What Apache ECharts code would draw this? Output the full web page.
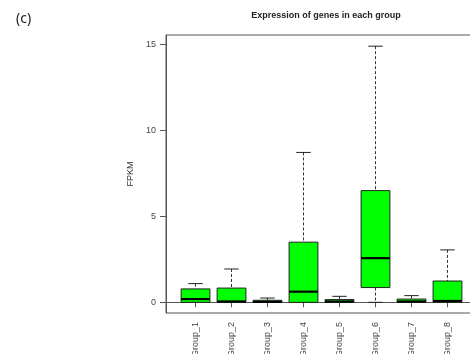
<!DOCTYPE html>
<html>
<head>
<meta charset="utf-8">
<script src="https://cdn.jsdelivr.net/npm/echarts@6/dist/echarts.min.js"></script>
<style>html,body{margin:0;padding:0;background:#fff;}#c{width:470px;height:354px;}</style>
</head>
<body>
<div id="c"></div>
<script>
const categories = ['Group_1','Group_2','Group_3','Group_4','Group_5','Group_6','Group_7','Group_8'];
const mins    = [0, 0, 0, 0, 0, 0, 0, 0];
const q1s     = [0, 0, 0, 0, 0, 0.86, 0, 0];
const medians = [0.19, 0.05, 0.03, 0.62, 0.05, 2.57, 0.05, 0.08];
const q3s     = [0.78, 0.83, 0.12, 3.5, 0.16, 6.5, 0.19, 1.24];
const maxs    = [1.09, 1.94, 0.25, 8.72, 0.35, 14.9, 0.39, 3.05];
const yTicks  = [0, 5, 10, 15];
const xTicks  = [1, 2, 3, 4, 5, 6, 7, 8];

const data = categories.map((c, i) => [i + 1, mins[i], q1s[i], medians[i], q3s[i], maxs[i]]);

const chart = echarts.init(document.getElementById('c'), null, {renderer: 'canvas'});
const axisColor = '#555';
chart.setOption({
  animation: false,
  backgroundColor: '#fff',
  title: [
    {text: 'Expression of genes in each group', left: 321, top: 6, textAlign: 'center',
     textStyle: {fontSize: 9, fontWeight: 'bold', fontFamily: 'Liberation Sans', color: '#222'}},
    {text: '(c)', left: 11, top: 7,
     textStyle: {fontSize: 14, fontWeight: 'normal', fontFamily: 'Noto Sans', color: '#222'}}
  ],
  grid: {left: 166, top: 35, width: 311, height: 278, outerBoundsMode: 'none', containLabel: false,
         show: true, borderColor: axisColor, borderWidth: 1, backgroundColor: 'transparent'},
  xAxis: {
    type: 'value', min: 0.18, max: 8.82,
    axisLine: {show: true, lineStyle: {color: axisColor}},
    axisTick: {show: true, length: 5, customValues: xTicks, lineStyle: {color: axisColor}},
    axisLabel: {customValues: xTicks, rotate: 90, margin: 9, fontSize: 9, fontFamily: 'Liberation Sans', color: '#444',
      formatter: v => categories[Math.round(v) - 1]},
    splitLine: {show: false}
  },
  yAxis: {
    type: 'value', min: -0.62, max: 15.55,
    name: 'FPKM', nameLocation: 'middle', nameGap: 31, nameRotate: 90,
    nameTextStyle: {fontSize: 9, fontFamily: 'Liberation Sans', color: '#333'},
    axisLine: {show: true, lineStyle: {color: axisColor}},
    axisTick: {show: true, length: 6, customValues: yTicks, lineStyle: {color: axisColor}},
    axisLabel: {customValues: yTicks, margin: 10, fontSize: 9, fontFamily: 'Liberation Sans', color: '#444'},
    splitLine: {show: false}
  },
  series: [{
    type: 'custom',
    data: data,
    clip: false,
    encode: {x: 0, y: [1, 2, 3, 4, 5]},
    renderItem: function (params, api) {
      const x = api.value(0);
      const pMin = api.coord([x, api.value(1)]);
      const pQ1 = api.coord([x, api.value(2)]);
      const pMed = api.coord([x, api.value(3)]);
      const pQ3 = api.coord([x, api.value(4)]);
      const pMax = api.coord([x, api.value(5)]);
      const half = api.size([0.8, 0])[0] / 2;
      const cap = api.size([0.4, 0])[0] / 2;
      const cx = pMed[0];
      const dash = {stroke: '#333', lineWidth: 1, lineDash: [3, 2]};
      const solid = {stroke: '#222', lineWidth: 1};
      const children = [];
      children.push({type: 'line', shape: {x1: cx, y1: pMax[1], x2: cx, y2: pQ3[1]}, style: dash});
      children.push({type: 'line', shape: {x1: cx, y1: pQ1[1], x2: cx, y2: pMin[1]}, style: dash});
      children.push({type: 'line', shape: {x1: cx - cap, y1: pMax[1], x2: cx + cap, y2: pMax[1]}, style: solid});
      children.push({type: 'line', shape: {x1: cx - cap, y1: pMin[1], x2: cx + cap, y2: pMin[1]}, style: solid});
      children.push({type: 'rect', shape: {x: cx - half, y: pQ3[1], width: half * 2, height: pQ1[1] - pQ3[1]},
        style: {fill: '#00ff00', stroke: '#222', lineWidth: 1}});
      children.push({type: 'line', shape: {x1: cx - half, y1: pMed[1], x2: cx + half, y2: pMed[1]},
        style: {stroke: '#000', lineWidth: 2.2}});
      return {type: 'group', children: children};
    }
  }]
});
</script>
</body>
</html>
